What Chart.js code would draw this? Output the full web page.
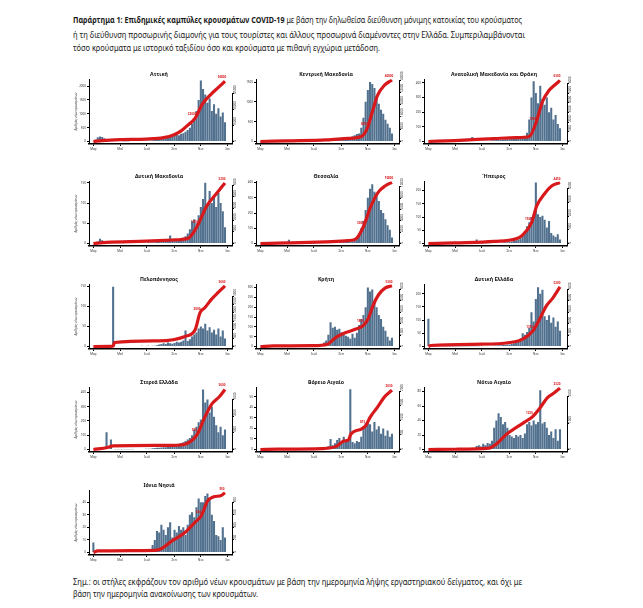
<!DOCTYPE html>
<html lang="el">
<head>
<meta charset="UTF-8">
<title>Επιδημικές καμπύλες κρουσμάτων COVID-19</title>
<script src="https://cdn.jsdelivr.net/npm/chart.js@4.4.1/dist/chart.umd.min.js"></script>
<style>
  body { margin:0; background:#fff; width:643px; height:608px; position:relative; overflow:hidden;
         font-family:"Noto Sans", sans-serif; color:#1a1a1a; }
  .ln { position:absolute; left:73px; font-size:8px; line-height:10px; white-space:nowrap; transform-origin:left center; }
  .ln b { font-weight:700; }
  canvas { position:absolute; }
</style>
</head>
<body>

<div class="ln" style="top:15px" data-w="449"><b>Παράρτημα 1: Επιδημικές καμπύλες κρουσμάτων COVID-19</b> με βάση την δηλωθείσα διεύθυνση μόνιμης κατοικίας του κρούσματος</div>
<div class="ln" style="top:30px" data-w="452">ή τη διεύθυνση προσωρινής διαμονής για τους τουρίστες και άλλους προσωρινά διαμένοντες στην Ελλάδα. Συμπεριλαμβάνονται</div>
<div class="ln" style="top:43px" data-w="307">τόσο κρούσματα με ιστορικό ταξιδίου όσο και κρούσματα με πιθανή εγχώρια μετάδοση.</div>

<div id="charts"></div>

<div class="ln" style="top:577px" data-w="449">Σημ.: οι στήλες εκφράζουν τον αριθμό νέων κρουσμάτων με βάση την ημερομηνία λήψης εργαστηριακού δείγματος, και όχι με</div>
<div class="ln" style="top:589px" data-w="185">βάση την ημερομηνία ανακοίνωσης των κρουσμάτων.</div>

<script>
// x axis: days since 1 March 2020, one bar every 5 days
var monthTicks = [0, 61, 122, 184, 245, 306];
var monthLabels = ['Μαρ', 'Μαΐ', 'Ιουλ', 'Σεπ', 'Νοε', 'Ιαν'];
var barStep = 5;

var titles = ['Αττική', 'Κεντρική Μακεδονία', 'Ανατολική Μακεδονία και Θράκη',
              'Δυτική Μακεδονία', 'Θεσσαλία', 'Ήπειρος',
              'Πελοπόννησος', 'Κρήτη', 'Δυτική Ελλάδα',
              'Στερεά Ελλάδα', 'Βόρειο Αιγαίο', 'Νότιο Αιγαίο',
              'Ιόνια Νησιά'];

// new cases (bars)
var attBars = [10,60,150,180,160,120,80,50,40,30, 25,20,15,15,10,10,10,15,15,20, 20,20,25,30,30,35,40,50,60,80,
               110,140,170,160,200,190,220,240,260,230, 280,300,350,420,500,650,800,1100,1500,2200,
               1900,1700,1400,1550,1100,1350,1000,1200,900,1050,700];
var cmBars  = [5,10,20,25,20,15,10,8,5,5, 5,3,3,3,2,2,2,3,3,5, 5,5,8,10,12,15,20,25,30,35,
               40,45,50,45,60,55,60,70,80,75, 90,110,130,160,190,200,350,600,1000,1300,
               1500,1450,1350,1150,950,800,700,550,450,350,200];
var emtBars = [0,2,5,5,4,3,2,2,1,1, 1,1,1,1,1,2,2,2,3,3, 30,3,3,4,4,5,5,6,6,8,
               8,10,10,12,12,14,15,15,18,20, 20,25,25,30,35,60,150,300,410,330,
               260,380,290,250,300,200,230,150,180,120,90];
var dmBars  = [0,2,5,12,8,5,3,2,2,1, 1,1,1,1,1,1,1,1,1,1, 1,2,2,2,2,3,3,3,3,4,
               4,5,5,5,6,20,6,7,8,10, 12,14,18,25,35,55,60,50,70,
               90,110,150,95,130,100,120,90,125,100,80,40];
var thBars  = [0,1,2,2,2,1,1,1,1,1, 1,1,1,25,1,1,1,1,1,1, 1,1,2,2,2,2,3,3,3,4,
               4,5,5,6,6,7,8,8,10,10, 12,15,15,20,35,60,100,150,220,300,
               360,390,340,310,280,220,200,160,120,90,40];
var epBars  = [0,1,2,2,1,1,1,1,1,1, 0,0,0,0,0,0,0,1,1,1, 1,1,15,1,1,1,1,1,1,2,
               2,3,3,3,4,5,5,6,8,10, 12,15,20,30,45,65,80,100,110,230,
               110,100,105,90,60,85,40,30,25,35,15];
var pelBars = [0,1,2,2,1,1,1,1,1,150, 1,1,1,1,1,1,1,1,1,1, 1,1,2,1,1,2,1,2,2,3,
               5,6,8,6,10,8,7,9,12,10, 12,15,40,14,18,25,30,35,45,50,
               45,57,40,48,35,42,30,45,25,40,20];
var crBars  = [0,2,4,3,2,1,1,1,1,1, 1,1,1,1,1,1,1,1,2,2, 2,2,3,3,4,5,6,8,10,20,
               30,60,124,95,100,85,90,72,60,55, 50,40,65,45,70,110,140,160,200,300,
               280,290,230,200,160,140,100,80,50,30,45];
var wgBars  = [105,3,5,4,3,2,2,1,1,1, 1,1,1,1,1,1,1,1,1,1, 1,1,1,1,2,2,2,3,3,3,
               4,4,5,5,6,6,8,8,10,12, 15,18,30,50,45,55,70,130,95,180,
               225,200,215,115,100,118,90,110,75,95,60];
var stBars  = [0,2,5,8,6,5,120,6,70,3, 2,2,2,1,1,1,2,2,2,3, 3,3,4,4,5,5,6,8,10,12,
               12,14,15,16,18,20,25,30,35,40, 45,50,60,70,80,100,140,160,190,210,
               420,330,350,260,300,230,170,120,160,100,140];
var naBars  = [0,0,1,0,0,0,0,0,0,0, 0,0,0,0,0,0,0,0,0,0, 0,0,1,0,1,1,1,1,2,2,
               2,3,10,4,6,9,11,7,12,8, 8,57,7,6,8,7,12,22,25,27,
               24,17,26,19,22,15,20,13,18,12,15];
var saBars  = [0,0,1,1,0,0,0,0,0,0, 0,0,0,0,0,0,0,0,0,0, 1,2,5,6,4,8,6,9,8,12,
               30,40,50,45,35,38,30,20,18,16, 20,18,20,16,22,35,38,33,40,35,
               38,82,36,38,30,20,25,16,28,12,28];
var ioBars  = [8,1,0,1,1,0,0,0,0,0, 0,0,0,0,0,0,0,0,0,0, 0,0,1,1,1,1,2,6,10,17,
               16,22,18,14,20,24,12,18,16,21, 18,20,14,22,30,32,28,36,43,40,
               40,45,47,42,30,25,14,13,10,20,12];

// cumulative cases (red line), [day, total]
var attCum = [[0,0],[20,800],[60,1700],[120,2300],[160,3600],[184,6400],[200,10000],[214,15000],[232,22000],[248,35000],[268,44500],[285,51000],[300,56800]];
var cmCum  = [[0,0],[60,400],[150,1000],[200,2000],[230,3200],[244,8900],[256,20000],[267,30000],[283,36700],[300,40000]];
var emtCum = [[0,0],[60,100],[150,300],[200,400],[230,520],[245,1900],[260,4100],[274,5200],[290,5900],[300,6300]];
var dmCum  = [[0,0],[30,100],[120,200],[180,300],[216,450],[237,1500],[258,3200],[283,4400],[300,5200]];
var thCum  = [[0,0],[60,100],[150,300],[200,500],[219,900],[235,3000],[252,6600],[268,9000],[285,10200],[300,10800]];
var epCum  = [[0,0],[60,50],[150,150],[200,350],[214,600],[235,1500],[247,2750],[264,3600],[281,4200],[300,4450]];
var pelCum = [[0,0],[45,20],[48,240],[149,340],[209,600],[232,1000],[243,2000],[254,2300],[269,2800],[284,3200],[300,3600]];
var crCum  = [[0,0],[30,50],[119,70],[153,200],[172,800],[187,1100],[216,1500],[235,1850],[246,2450],[257,3600],[269,4500],[284,5100],[300,5300]];
var wgCum  = [[0,0],[5,90],[124,200],[185,350],[215,650],[238,1350],[253,2350],[269,3550],[284,4250],[300,5200]];
var stCum  = [[0,0],[32,120],[45,220],[179,250],[212,350],[237,920],[254,1940],[271,2760],[287,3160],[300,3600]];
var naCum  = [[0,0],[40,10],[140,30],[174,115],[190,290],[201,330],[206,520],[230,700],[240,815],[250,1100],[267,1450],[283,1800],[300,2030]];
var saCum  = [[0,0],[60,10],[138,50],[154,195],[179,585],[220,1040],[237,1230],[254,1560],[271,1950],[287,2140],[300,2320]];
var ioCum  = [[0,0],[10,25],[140,35],[155,60],[178,178],[208,314],[231,476],[246,584],[261,827],[273,881],[292,908],[300,950]];

// axis ticks and tops, left = new cases, right = cumulative
var leftTicks  = [[0,500,1000,1500,2000],[0,500,1000,1500],[0,100,200,300,400],
                  [0,50,100,150],[0,100,200,300,400],[0,50,100,150,200],
                  [0,50,100,150],[0,50,100,150,200,250,300],[0,50,100,150,200],
                  [0,100,200,300,400],[0,10,20,30,40,50],[0,20,40,60,80],
                  [0,10,20,30,40]];
var leftMax    = [2250,1570,424,154,409,235,156,317,236,436,59,86,49.5];
var rightTicks = [[0,15000,30000,45000],[0,8000,16000,24000,32000,40000],[0,1000,2000,3000,4000,5000,6000],
                  [0,1000,2000,3000,4000,5000],[0,2000,4000,6000,8000,10000],[0,1000,2000,3000,4000],
                  [0,500,1000,1500,2000,2500,3000],[0,1000,2000,3000,4000,5000],[0,1000,2000,3000,4000,5000],
                  [0,1000,2000,3000],[0,500,1000,1500,2000],[0,1000,2000],
                  [0,200,400,600,800]];
var rightMax   = [58700,40500,6420,5350,11000,4550,3700,5440,5440,3730,2130,2350,989];

var allBars = [attBars,cmBars,emtBars,dmBars,thBars,epBars,pelBars,crBars,wgBars,stBars,naBars,saBars,ioBars];
var allCum  = [attCum,cmCum,emtCum,dmCum,thCum,epCum,pelCum,crCum,wgCum,stCum,naCum,saCum,ioCum];

var axisLeftX = [89, 256, 424];
var titleY = [74, 176.5, 279.5, 382.5, 485];

var barColor = '#52718f';
var lineColor = '#d7191c';
var tickFont = { family: 'Noto Sans', size: 3 };

// small red value labels on the cumulative line + right axis line up to its top tick
var lineLabels = {
    id: 'lineLabels',
    afterDatasetsDraw: function (chart) {
        var raw = chart.data.datasets[1].data;
        var pts = chart.getDatasetMeta(1).data;
        var mid = 0;
        raw.forEach(function (p, i) { if (Math.abs(p.x - 240) < Math.abs(raw[mid].x - 240)) mid = i; });
        var ctx = chart.ctx;
        ctx.save();
        ctx.fillStyle = lineColor;
        ctx.font = 'bold 3px "Noto Sans"';
        ctx.textAlign = 'center';
        [mid, pts.length - 1].forEach(function (i) {
            ctx.fillText(raw[i].y, pts[i].x - 3, pts[i].y - 3);
        });

        var s = chart.scales.y1;
        var tk = s.ticks;
        var xr = chart.chartArea.right + 0.5;
        ctx.strokeStyle = '#000';
        ctx.lineWidth = 1;
        ctx.beginPath();
        ctx.moveTo(xr, chart.chartArea.bottom);
        ctx.lineTo(xr, s.getPixelForValue(tk[tk.length - 1].value));
        ctx.stroke();
        ctx.restore();
    }
};

function fixTicks(list) {
    return function (scale) { scale.ticks = list.map(function (v) { return { value: v }; }); };
}
function plain(v) { return String(v); }

titles.forEach(function (name, k) {
    var col = k % 3, row = Math.floor(k / 3);
    var cv = document.createElement('canvas');
    cv.width = 170; cv.height = 82;
    cv.style.left = (axisLeftX[col] - 15) + 'px';
    cv.style.top = (titleY[row] - 3.1) + 'px';
    document.getElementById('charts').appendChild(cv);

    var barData = allBars[k].map(function (v, i) { return { x: i * barStep, y: v }; });
    var lineData = allCum[k].map(function (p) { return { x: p[0], y: p[1] }; });

    new Chart(cv.getContext('2d'), {
        type: 'bar',
        data: {
            datasets: [
                { type: 'bar', data: barData, backgroundColor: barColor, barPercentage: 1,
                  categoryPercentage: 0.95, yAxisID: 'y', order: 2 },
                { type: 'line', data: lineData, borderColor: lineColor, borderWidth: 3.2,
                  pointRadius: 0, cubicInterpolationMode: 'monotone', yAxisID: 'y1', order: 1 }
            ]
        },
        options: {
            responsive: false,
            animation: false,
            events: [],
            layout: { padding: 0 },
            plugins: {
                legend: { display: false },
                tooltip: { enabled: false },
                title: { display: true, text: name, color: '#111',
                         font: { family: 'Noto Sans', size: 5.2, weight: 'bold' },
                         padding: { top: 0, bottom: 2 } }
            },
            scales: {
                x: {
                    type: 'linear', min: -10, max: 316, offset: false,
                    afterBuildTicks: fixTicks(monthTicks),
                    afterFit: function (s) { s.height = 9; },
                    ticks: { font: tickFont, color: '#333', padding: 1, maxRotation: 0, autoSkip: false,
                             callback: function (v) { return monthLabels[monthTicks.indexOf(v)]; } },
                    grid: { offset: false, drawOnChartArea: false, tickLength: 2, color: '#000' },
                    border: { color: '#000', width: 1.5 }
                },
                y: {
                    position: 'left', min: -0.04 * leftMax[k], max: leftMax[k],
                    afterBuildTicks: fixTicks(leftTicks[k]),
                    afterFit: function (s) { s.width = 15; },
                    ticks: { font: tickFont, color: '#333', padding: 1, callback: plain },
                    grid: { drawOnChartArea: false, tickLength: 2, color: '#000' },
                    border: { color: '#000', width: 1 },
                    title: { display: col === 0, text: 'Αριθμός νέων κρουσμάτων', font: tickFont,
                             color: '#333', padding: 0 }
                },
                y1: {
                    position: 'right', min: -0.04 * rightMax[k], max: rightMax[k],
                    afterBuildTicks: fixTicks(rightTicks[k]),
                    afterFit: function (s) { s.width = 12; },
                    ticks: { font: tickFont, color: '#333', padding: 1, minRotation: 90, maxRotation: 90,
                             callback: plain },
                    grid: { drawOnChartArea: false, tickLength: 2, color: '#000' },
                    border: { display: false }
                }
            }
        },
        plugins: [lineLabels]
    });
});

// squeeze the text lines to the widths of the page
document.querySelectorAll('.ln').forEach(function (el) {
    var w = el.getBoundingClientRect().width;
    el.style.transform = 'scaleX(' + (el.dataset.w / w) + ')';
});
</script>
</body>
</html>
